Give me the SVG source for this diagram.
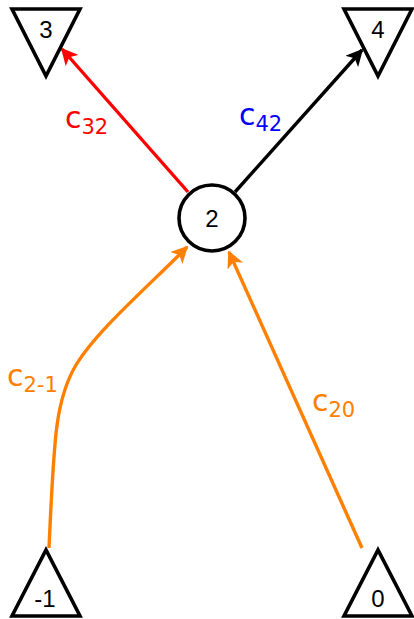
<svg xmlns="http://www.w3.org/2000/svg" width="414" height="619" viewBox="0 0 414 619">
<style>
.node{fill:#fff;stroke:#000;stroke-width:3.6;stroke-linejoin:miter}
.nl{font-family:"Liberation Sans","DejaVu Sans",sans-serif;font-size:24px;fill:#000;text-anchor:middle}
.edge{fill:none;stroke-width:3.4}
.el{font-family:"DejaVu Sans","Liberation Sans",sans-serif;font-size:30px}
.sub{font-size:21px}
</style>
<defs>
<marker id="ar" viewBox="0 0 10 10" refX="9" refY="5" markerWidth="5" markerHeight="5" orient="auto" markerUnits="strokeWidth"><path d="M0,0 L10,5 L0,10 L2.5,5 z" fill="#f00"/></marker>
<marker id="ab" viewBox="0 0 10 10" refX="9" refY="5" markerWidth="5" markerHeight="5" orient="auto" markerUnits="strokeWidth"><path d="M0,0 L10,5 L0,10 L2.5,5 z" fill="#000"/></marker>
<marker id="ao" viewBox="0 0 10 10" refX="9" refY="5" markerWidth="5" markerHeight="5" orient="auto" markerUnits="strokeWidth"><path d="M0,0 L10,5 L0,10 L2.5,5 z" fill="#ff8000"/></marker>
</defs>
<g id="edges">
<path class="edge" stroke="#f00" d="M188,192 L62,49" marker-end="url(#ar)"/>
<path class="edge" stroke="#000" d="M235,192 L362,50" marker-end="url(#ab)"/>
<path class="edge" stroke="#ff8000" d="M49,548 C54,440 55,400 76,365 S150,285 187,247" marker-end="url(#ao)"/>
<path class="edge" stroke="#ff8000" d="M362,548 L229,252" marker-end="url(#ao)"/>
<text class="el" fill="#f00" x="65" y="128">c<tspan class="sub" dy="6">32</tspan></text>
<text class="el" fill="#00f" x="239" y="125">c<tspan class="sub" dy="6">42</tspan></text>
<text class="el" fill="#ff8000" x="7" y="386">c<tspan class="sub" dy="6">2-1</tspan></text>
<text class="el" fill="#ff8000" x="312" y="411">c<tspan class="sub" dy="6">20</tspan></text>
</g>
<g id="n3"><polygon class="node" points="12,9 80,9 46,76"/><text class="nl" x="46" y="38">3</text></g>
<g id="n4"><polygon class="node" points="344,9 412,9 378,76"/><text class="nl" x="378" y="38">4</text></g>
<g id="n2"><circle class="node" cx="212" cy="218" r="33"/><text class="nl" x="212" y="227">2</text></g>
<g id="nm1"><polygon class="node" points="12,616 80,616 46,550"/><text class="nl" x="45" y="607">-1</text></g>
<g id="n0"><polygon class="node" points="344,616 412,616 378,550"/><text class="nl" x="378" y="607">0</text></g>
</svg>
